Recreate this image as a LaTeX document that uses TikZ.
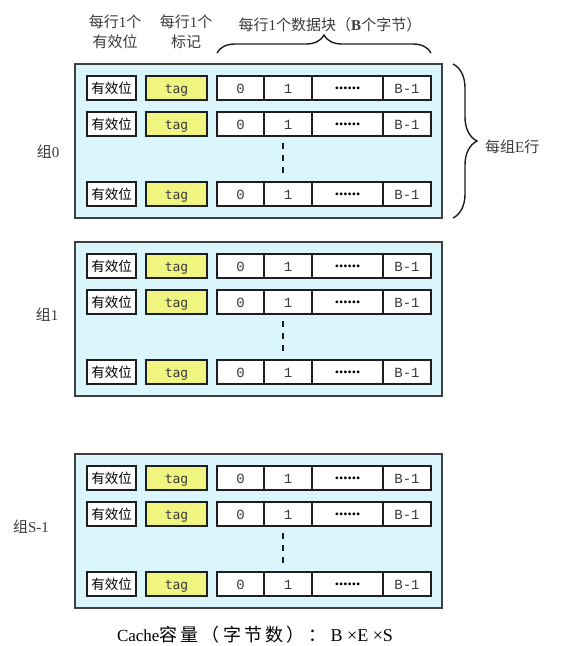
\documentclass[tikz,border=0pt]{standalone}
\usepackage{fontspec}
\setmainfont{Liberation Serif}
\newfontfamily\cjk{Noto Sans CJK SC}
\newfontfamily\cjksp[LetterSpace=18]{Noto Sans CJK SC}
\newfontfamily\monoA{Liberation Mono}
\newfontfamily\monoB{DejaVu Sans Mono}
\usetikzlibrary{decorations.pathreplacing}
\definecolor{setfill}{HTML}{DAF5FB}
\definecolor{tagfill}{HTML}{F0F580}
\definecolor{edge}{HTML}{1E1E1E}
\definecolor{txt}{HTML}{3A3A3A}

\newcommand\cacherow[2]{%
  \node[validcell] (#1v) at (111.5,#2) {有效位};
  \node[tagcell] (#1t) at (176.5,#2) {tag};
  \node[datacell, minimum width=47pt] (#1d0) at (240.5,#2) {0};
  \node[datacell, minimum width=48pt] (#1d1) at (288,#2) {1};
  \node[dotcell, minimum width=71pt] (#1dd) at (347.5,#2) {......};
  \node[datacell, minimum width=48pt] (#1db) at (407,#2) {B-1};
}
\newcommand\cacheset[2]{%
  \node[setbox] (#1) at (258.5,#2+77) {};
  \cacherow{#1a}{#2+24}
  \cacherow{#1b}{#2+60}
  \cacherow{#1c}{#2+130}
  \coordinate (#1u) at (283,#2+79);
  \coordinate (#1w) at (283,#2+113);
  \draw[dashline] (#1u) -- (#1w);
}

\begin{document}
\begin{tikzpicture}[x=1pt,y=-1pt,
  setbox/.style={draw=edge!85, line width=1.3pt, fill=setfill, minimum width=367pt, minimum height=154pt, inner sep=0},
  cell/.style={draw=edge, line width=1.2pt, fill=white, minimum height=24pt, inner sep=0, text=black},
  validcell/.style={cell, minimum width=49pt, font=\cjk\fontsize{13.5}{13.5}\selectfont},
  tagcell/.style={cell, fill=tagfill, minimum width=61pt, text=txt, text height=11pt, text depth=0pt, font=\monoB\fontsize{13}{13}\selectfont},
  datacell/.style={cell, text=txt, text height=11pt, text depth=0pt, font=\monoA\fontsize{14}{14}\selectfont},
  dotcell/.style={cell, font=\bfseries\fontsize{17}{17}\selectfont},
  dashline/.style={draw=edge, line width=2.6pt, dash pattern=on 6pt off 6pt},
  bracestyle/.style={draw=edge, line width=1.4pt, decorate},
  hdr/.style={text=txt, font=\fontsize{15}{20}\selectfont, align=center, inner sep=0},
  lbl/.style={text=txt, font=\fontsize{15}{15}\selectfont, inner sep=0}
]
\useasboundingbox (0,0) rectangle (563,646);

\cacheset{g0}{64}
\cacheset{g1}{242}
\cacheset{gs}{454}

% headers
\node[hdr] (hv) at (115,32) {{\cjk 每行}1{\cjk 个}\\{\cjk 有效位}};
\node[hdr] (ht) at (186,32) {{\cjk 每行}1{\cjk 个}\\{\cjk 标记}};
\node[hdr] (hd) at (330,25) {{\cjk 每行}1{\cjk 个数据块（}\textbf{B}{\cjk 个字节）}};

% braces
\coordinate (bl) at (217,53);
\coordinate (br) at (431,53);
\draw[bracestyle, decoration={brace, amplitude=18pt}] (bl) -- (br);
\coordinate (rt) at (453,64);
\coordinate (rb) at (453,218);
\draw[bracestyle, decoration={brace, amplitude=24pt}] (rt) -- (rb);
\node[lbl, anchor=west] (eline) at (485,147) {{\cjk 每组}E{\cjk 行}};

% set labels
\node[lbl] (l0) at (48,152) {{\cjk 组}0};
\node[lbl] (l1) at (47,315) {{\cjk 组}1};
\node[lbl] (ls) at (31,527) {{\cjk 组}S-1};

% caption
\node[inner sep=0, text=black] (cap) at (255,635) {{\fontsize{17}{17}\selectfont Cache}{\cjksp\fontsize{18}{18}\selectfont 容量（字节数）：}{\fontsize{18}{18}\selectfont \ B ×E ×S}};
\end{tikzpicture}
\end{document}
